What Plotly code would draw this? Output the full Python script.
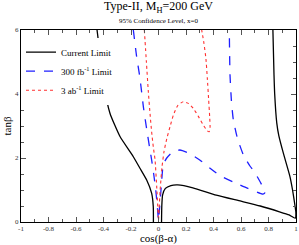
import plotly.graph_objects as go

# Current limit (black solid) - branches separated by None
cur_x = [-0.447, -0.427, -0.40, -0.353, -0.28, -0.183, -0.135, -0.086, -0.05, -0.038, -0.037, None,
         0.022, 0.024, 0.03, 0.05, 0.09, 0.14, 0.25, 0.42, 0.60, 0.74, 0.88, 0.95, 0.995,
         0.999, 0.993, 0.975, 0.956, 0.908, 0.875, 0.86, 0.845, 0.84, 0.832]
cur_y = [6.0, 5.3, 4.35, 3.4, 2.67, 2.04, 1.68, 1.31, 0.9, 0.48, 0.0, None,
         0.0, 0.5, 0.85, 1.05, 1.14, 1.16, 1.07, 0.84, 0.65, 0.5, 0.32, 0.22, 0.12,
         0.3, 0.5, 1.0, 1.42, 2.15, 2.7, 3.1, 4.0, 4.6, 6.0]

# 300 fb^-1 limit (blue dashed)
hl_x = [-0.183, -0.16, -0.135, -0.11, -0.086, -0.06, -0.05, -0.035, -0.02, -0.008, 0.0,
        0.008, 0.02, 0.035, 0.06, 0.10, 0.156, 0.22, 0.30, 0.375, 0.447, 0.544, 0.65, 0.76,
        0.775, 0.74, 0.70, 0.665, 0.617, 0.575, 0.544, 0.53, 0.52, 0.517, 0.515]
hl_y = [6.0, 5.2, 4.5, 3.6, 2.9, 2.2, 1.94, 1.5, 1.0, 0.45, 0.05,
        0.45, 1.1, 1.8, 2.0, 2.18, 2.25, 2.15, 1.94, 1.68, 1.45, 1.25, 1.05, 0.87,
        0.92, 1.25, 1.55, 1.75, 2.1, 2.6, 3.2, 3.8, 4.6, 5.3, 6.0]

# 3 ab^-1 limit (red dotted)
hh_x = [-0.103, -0.088, -0.074, -0.06, -0.05, -0.038, -0.025, -0.013, -0.005, 0.0,
        0.005, 0.012, 0.025, 0.04, 0.06, 0.084, 0.108, 0.14, 0.18, 0.22, 0.253, 0.29,
        0.33, 0.355, 0.368, 0.375, 0.372, 0.365, 0.355, 0.345, 0.33, 0.314]
hh_y = [6.0, 5.0, 4.07, 3.3, 2.82, 2.35, 1.94, 1.1, 0.45, 0.05,
        0.45, 1.0, 1.7, 2.2, 2.6, 2.98, 3.34, 3.64, 3.76, 3.7, 3.55, 3.3,
        3.0, 2.85, 2.82, 2.95, 3.3, 3.8, 4.5, 5.1, 5.6, 6.0]

x_ticks = [-1, -0.8, -0.6, -0.4, -0.2, 0, 0.2, 0.4, 0.6, 0.8, 1]
x_ticklabels = ["-1", "-0.8", "-0.6", "-0.4", "-0.2", "0", "0.2", "0.4", "0.6", "0.8", "1"]
y_ticks = [0, 2, 4, 6]
y_ticklabels = ["0", "2", "4", "6"]

SERIF = "Liberation Serif, Times New Roman, serif"

fig = go.Figure()
fig.add_trace(go.Scatter(x=cur_x, y=cur_y, mode="lines", name="Current Limit",
                         line=dict(color="black", width=1.3, shape="spline", smoothing=0.5)))
fig.add_trace(go.Scatter(x=hl_x, y=hl_y, mode="lines", name="300 fb<sup>-1</sup> Limit",
                         line=dict(color="#1f1fff", width=1.3, dash="dash", shape="spline", smoothing=0.5)))
fig.add_trace(go.Scatter(x=hh_x, y=hh_y, mode="lines", name="3 ab<sup>-1</sup> Limit",
                         line=dict(color="#ff3030", width=1.1, dash="dot", shape="spline", smoothing=0.5)))

axis_common = dict(showline=True, linecolor="black", linewidth=1, mirror="ticks",
                   ticks="inside", tickcolor="#555555", showgrid=False, zeroline=False,
                   automargin=False,
                   tickfont=dict(family=SERIF, size=7, color="#333333"))

fig.update_xaxes(range=[-1, 1], tickvals=x_ticks, ticktext=x_ticklabels, ticklen=5,
                 minor=dict(dtick=0.1, ticklen=3, ticks="inside", tickcolor="#555555"),
                 title=dict(text="cos(β-α)", font=dict(family=SERIF, size=11, color="black"), standoff=1),
                 **axis_common)
fig.update_yaxes(range=[0, 6], tickvals=y_ticks, ticktext=y_ticklabels, ticklen=5,
                 minor=dict(dtick=0.5, ticklen=3, ticks="inside", tickcolor="#555555"),
                 title=dict(text="tanβ", font=dict(family=SERIF, size=11, color="black"), standoff=1),
                 **axis_common)

fig.update_layout(
    width=299, height=245,
    margin=dict(l=21, r=3, t=30, b=23, autoexpand=False),
    paper_bgcolor="white", plot_bgcolor="white",
    showlegend=True,
    legend=dict(x=0.0, y=0.96, xanchor="left", yanchor="top", bgcolor="white",
                font=dict(family=SERIF, size=9, color="black"), itemwidth=30,
                tracegroupgap=0),
    annotations=[
        dict(text="Type-II, M<sub>H</sub>=200 GeV", xref="paper", yref="paper", x=0.5, y=1.0,
             yshift=23, yanchor="middle", showarrow=False,
             font=dict(family=SERIF, size=12, color="black")),
        dict(text="95% Confidence Level, x=0", xref="paper", yref="paper", x=0.5, y=1.0,
             yshift=9.5, yanchor="middle", showarrow=False,
             font=dict(family=SERIF, size=7, color="black")),
    ],
)

fig.write_html("out.html", config={"displayModeBar": False},
               post_script="document.body.style.margin='0';")
